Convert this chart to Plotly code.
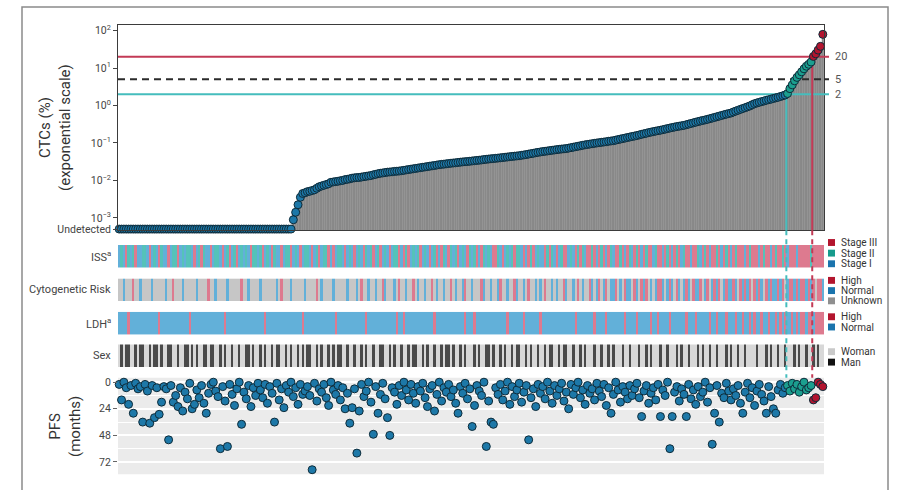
import math
import plotly.graph_objects as go

# ---------------------------------------------------------------- data ----
# Patients sorted by circulating tumour cell level (% of nucleated cells).
N_UNDETECTED = 74  # patients without detectable CTCs (left block)

CTC_DETECTED = [
    0.00089, 0.00141, 0.00224, 0.00355, 0.00447, 0.00468,
    0.00501, 0.00513, 0.00537, 0.00562, 0.00617, 0.00676, 0.00708, 0.00741, 0.00776, 0.00813,
    0.00891, 0.0091, 0.0093, 0.0095, 0.0098, 0.0100, 0.0105, 0.0107, 0.0110, 0.0115,
    0.0117, 0.0119, 0.0120, 0.0123, 0.0126, 0.0129, 0.0132, 0.0135, 0.0141, 0.0145,
    0.0151, 0.0155, 0.0158, 0.0162, 0.0166, 0.0168, 0.0170, 0.0174, 0.0176, 0.0178,
    0.0182, 0.0186, 0.0191, 0.0195, 0.0200, 0.0204, 0.0209, 0.0214, 0.0219, 0.0224,
    0.0229, 0.0234, 0.0240, 0.0245, 0.0250, 0.0257, 0.0263, 0.0268, 0.0272, 0.0277,
    0.0282, 0.0288, 0.0292, 0.0295, 0.0302, 0.0307, 0.0312, 0.0316, 0.0320, 0.0325,
    0.0331, 0.0336, 0.0342, 0.0347, 0.0352, 0.0360, 0.0366, 0.0372, 0.0378, 0.0383,
    0.0389, 0.0395, 0.0401, 0.0408, 0.0416, 0.0422, 0.0430, 0.0437, 0.0444, 0.0450,
    0.0457, 0.0468, 0.0479, 0.0490, 0.0505, 0.0518, 0.0531, 0.0547, 0.0562, 0.0575,
    0.0589, 0.0600, 0.0611, 0.0625, 0.0638, 0.0650, 0.0664, 0.0676, 0.0688, 0.0697,
    0.0708, 0.0728, 0.0750, 0.0772, 0.0795, 0.0818, 0.0842, 0.0867, 0.0891, 0.0912,
    0.0933, 0.0955, 0.0977, 0.0999, 0.102, 0.104, 0.106, 0.108, 0.111, 0.113,
    0.115, 0.119, 0.123, 0.127, 0.131, 0.135, 0.140, 0.144, 0.149, 0.153,
    0.158, 0.164, 0.170, 0.176, 0.182, 0.189, 0.195, 0.201, 0.207, 0.213,
    0.219, 0.226, 0.234, 0.242, 0.250, 0.258, 0.266, 0.274, 0.281, 0.288,
    0.295, 0.307, 0.319, 0.332, 0.345, 0.358, 0.372, 0.386, 0.400, 0.413,
    0.427, 0.445, 0.463, 0.481, 0.501, 0.521, 0.543, 0.565, 0.588, 0.609,
    0.631, 0.672, 0.708, 0.748, 0.790, 0.832, 0.876, 0.924, 0.975, 1.05,
    1.12, 1.17, 1.22, 1.27, 1.32, 1.38, 1.43, 1.48, 1.54, 1.60,
    1.66, 1.74, 1.82, 1.91, 2.09, 2.82, 3.55, 4.57, 5.62, 6.61,
    7.94, 9.55, 11.2, 12.6, 14.5, 20.4, 24.0, 30.2, 38.0, 79.4,
]

PFS_MONTHS = [
    2, 16, 0, 5, 20, 3, 28, 1, 6, 4, 36, 2, 8, 37, 3, 32, 5, 29, 18, 4,
    6, 52, 3, 18, 12, 22, 5, 26, 9, 15, 1, 24, 20, 7, 14, 3, 19, 28, 10, 2,
    0, 8, 13, 60, 4, 17, 58, 2, 11, 21, 6, 0, 38, 9, 15, 3, 22, 5, 12, 1,
    7, 14, 2, 19, 4, 10, 36, 1, 16, 6, 23, 3, 9, 0, 13, 5, 20, 2, 11, 8,
    4, 12, 79, 1, 17, 6, 9, 2, 14, 21, 0, 7, 11, 3, 16, 5, 24, 10, 37, 23,
    6, 64, 26, 2, 13, 8, 0, 18, 47, 4, 28, 11, 1, 15, 32, 48, 5, 9, 20, 3,
    12, 0, 7, 16, 2, 10, 19, 4, 8, 1, 14, 22, 6, 3, 26, 11, 0, 17, 5, 9,
    2, 13, 7, 19, 28, 4, 10, 1, 15, 6, 40, 21, 3, 8, 12, 0, 58, 17, 36, 38,
    5, 11, 2, 16, 8, 0, 20, 4, 13, 7, 1, 18, 9, 3, 52, 14, 6, 22, 2, 10,
    4, 15, 0, 8, 19, 3, 12, 6, 1, 17, 9, 24, 2, 11, 5, 0, 14, 7, 20, 3,
    10, 6, 16, 1, 8, 13, 2, 21, 5, 28, 11, 0, 7, 18, 4, 9, 15, 3, 12, 6,
    1, 14, 31, 8, 3, 19, 10, 5, 16, 2, 31, 7, 12, 0, 60, 31, 9, 4, 17, 6,
    11, 31, 2, 15, 7, 20, 4, 13, 9, 0, 18, 5, 56, 28, 3, 36, 10, 14, 1, 8,
    16, 6, 12, 3, 19, 28, 9, 1, 14, 5, 21, 8, 2, 11, 17, 28, 4, 13, 24, 28,
    7, 2, 10, 5, 3, 8, 1, 6, 2, 9, 4, 0, 7, 5, 3, 16, 14, 0, 2, 4,
]

# ISS stage per patient: 1 = Stage I, 2 = Stage II, 3 = Stage III
ISS_STAGE = (
    "1213212311 2213121321 1312231212 2131232113 1221312312 "
    "3121213221 2312132113 1223121312 2131231223 1312213121 "
    "3121321231 2312131223 1323121231 2131231321 3212312132 "
    "1231321213 3213121232 2131323121 1323213123 3121323213 "
    "3231323132 1332313213 2313233123 3132313231 2331332132 "
    "3133231323 1323331323 3313233132 3323133313 3333233333"
).replace(" ", "")

# Cytogenetic risk: H = high, N = normal, U = unknown
CYTO_RISK = (
    "UUNUUUHUUN UUUUNUUUUU NUUHUUUNUU UUUNUUUUHU UNUUUUNUUU "
    "UUHUUNUUUU NUUUUUUNUH UUUNUUUUUN UUUUHUNUUU UNUUUUUNUU "
    "UNUHUUNUUN UUHNUUUNUH UUNUUHUNUU NUUHUNUUNU UHUNUUNHUU "
    "NUUUHNUUNU UNHUUNUUHN UUNUHUUNUN UHUUNUNUUH NUUNUHUNUU "
    "HNUNHUNHUN NHUNUHNNUH NUHNHUNUNH HNUNHNUHNU NHNUHNNHUN "
    "HUNHNHUNHN NHNUHNHNHU HNHNUHNHNN HNHUNHHNHN HHNHNHUHHN"
).replace(" ", "")

# LDH: H = high, N = normal
LDH_LEVEL = (
    "NNNNHNNNNN NNNNNNNHNN NNNNNNNNNN HNNNNNNNNN NNNNNHNNNN "
    "NNNNNNNNNN NNHNNNNNNN NNNNNNNNHN NNNNNNNNNN NNHNNNNNNN "
    "NNNNNHNNNN NNNNNNNNHN NHNNNNNNNN NNNNHNNNNN NNNNNNNHNN "
    "NHNNNNNNNN NNNNNHNNNN NNHNNNNNNH NNNNNNNNNN NNNNHNNNNN "
    "NNHNNNNHNN NNNNNHNNNN HNNNNNHNNH NNNNHNNNNN NHNNNHNNNN "
    "NHNNHNNNHN NNHNNHNNHN HNNHNNHNNH NHNHNNHNHN HHNHHNHHHH"
).replace(" ", "")

# Sex: W = woman, M = man
SEX = (
    "WMWMMWWMWM MWWMWMMWMW WMMWWMWWMM WMWMWWMMWM MWWMWMWWMW "
    "WMWWMMWMWW MWMWWMWMMW WMWMWWMWMW MMWWMWMWWM WMWMMWWMWW "
    "MWWMWMWWMW WMMWWMWMWW MWWMWMMWWM WMWWMWWMWM MWMWWMWMWW "
    "WMWMWWMMWM WWMWMWWMWM MWWMWMWWMW WMWMMWWMWM MWWMWWMWMW "
    "WWMWWMWWMW MWWWMWWMWW WMWWMWMWWW MWWMWWWMWM WWMWWWMWMW "
    "WMWWMWWWMW MWWMWWMWWW WMWWWMWMWW MWWMWWWMWM WWMWWMWMWW"
).replace(" ", "")

LOW_CUT, MID_CUT, HIGH_CUT = 2, 5, 20        # CTC thresholds (%)
Y_LOG_RANGE = [-3.33, 2.16]                  # log10 range of the CTC panel
UNDETECTED_POS = 10 ** -3.3                  # where undetected cases sit
CTC_TICKS = [UNDETECTED_POS, 1e-3, 1e-2, 1e-1, 1, 10, 100]
CTC_TICKTEXT = ["Undetected", "10<sup>\u22123</sup>", "10<sup>\u22122</sup>",
                "10<sup>\u22121</sup>", "10<sup>0</sup>", "10<sup>1</sup>", "10<sup>2</sup>"]
PFS_TICKS = [0, 24, 48, 72]

ctc = [0.0] * N_UNDETECTED + CTC_DETECTED
N = len(ctc)
for seq in (PFS_MONTHS, ISS_STAGE, CYTO_RISK, LDH_LEVEL, SEX):
    assert len(seq) == N, len(seq)

# ---------------------------------------------------------------- style ---
FONT = "Roboto, Arial, sans-serif"
TXT = "#333333"
DOT = {"low": "#1d78a8", "mid": "#1b9f8f", "high": "#b3142f"}
DOT_EDGE = "#0e2c3a"
PINK, TEAL_L, BLUE_L, GRAY_L = "#dd7a8f", "#55c2b9", "#62b0d9", "#c6c6c6"
WOMAN_C, MAN_C = "#d8d8d8", "#4a4a4a"
KEY_RED, KEY_TEAL, KEY_BLUE, KEY_GRAY = "#b3152e", "#169b8c", "#1a74ad", "#8f8f8f"
LINE_RED, LINE_CYAN = "#c33a56", "#45bdbd"

W, H = 899, 490


def fx(px):
    return px / W


def fy(py):
    return 1 - py / H


X_LEFT, X_RIGHT = 118, 824
PANELS = [  # name, top px, bottom px
    ("ctc", 23, 232), ("iss", 247, 270), ("cyto", 281, 304),
    ("ldh", 315, 338), ("sex", 348, 371), ("pfs", 382, 480),
]
AX = {name: ("" if k == 0 else str(k + 1)) for k, (name, _, _) in enumerate(PANELS)}
PANEL_PX = {name: (t, b) for name, t, b in PANELS}


def group(v):
    if v >= HIGH_CUT:
        return "high"
    if v >= LOW_CUT:
        return "mid"
    return "low"


groups = [group(v) for v in ctc]
idx = list(range(N))

fig = go.Figure()
base = 10 ** Y_LOG_RANGE[0]

# threshold lines sit underneath the grey CTC profile
for val, col, dash in ((HIGH_CUT, LINE_RED, "solid"), (MID_CUT, "#2b2b2b", "7px,5px"),
                       (LOW_CUT, LINE_CYAN, "solid")):
    fig.add_trace(go.Scatter(x=[-0.5, N - 0.5], y=[val, val], mode="lines",
                             line=dict(color=col, width=2, dash=dash),
                             hoverinfo="skip", showlegend=False, xaxis="x", yaxis="y"))

det_x = [i for i in idx if ctc[i] > 0]
fig.add_trace(go.Bar(x=det_x, y=[ctc[i] for i in det_x], base=base,
                     marker=dict(color="#888888", line=dict(color="#999999", width=0.25)),
                     hoverinfo="skip", showlegend=False, xaxis="x", yaxis="y"))

# vertical markers at the first patient above each cut-off
cut_lo = next(i for i, v in enumerate(ctc) if v >= LOW_CUT) - 0.5
cut_hi = next(i for i, v in enumerate(ctc) if v >= HIGH_CUT) - 0.5
for xc, val, col in ((cut_lo, LOW_CUT, LINE_CYAN), (cut_hi, HIGH_CUT, LINE_RED)):
    fig.add_trace(go.Scatter(x=[xc, xc], y=[val, base], mode="lines",
                             line=dict(color=col, width=2), hoverinfo="skip",
                             showlegend=False, xaxis="x", yaxis="y"))

for g in ("low", "mid", "high"):
    sel = [i for i in idx if groups[i] == g]
    fig.add_trace(go.Scatter(
        x=sel, y=[ctc[i] if ctc[i] > 0 else UNDETECTED_POS for i in sel], mode="markers",
        marker=dict(size=8, color=DOT[g], line=dict(color=DOT_EDGE, width=1)),
        cliponaxis=False, hoverinfo="skip", showlegend=False, xaxis="x", yaxis="y"))
    fig.add_trace(go.Scatter(
        x=sel, y=[PFS_MONTHS[i] for i in sel], mode="markers",
        marker=dict(size=8, color=DOT[g], line=dict(color=DOT_EDGE, width=1)),
        cliponaxis=False, hoverinfo="skip", showlegend=False,
        xaxis="x" + AX["pfs"], yaxis="y" + AX["pfs"]))

# annotation strips: (panel, label, codes, levels, colours, key entries, key top offset, key step)
STRIPS = [
    ("iss", "ISS<sup>a</sup>", ISS_STAGE, ["1", "2", "3"], [BLUE_L, TEAL_L, PINK],
     [("Stage III", KEY_RED), ("Stage II", KEY_TEAL), ("Stage I", KEY_BLUE)], -2.5, 10.8),
    ("cyto", "Cytogenetic Risk", CYTO_RISK, ["U", "N", "H"], [GRAY_L, BLUE_L, PINK],
     [("High", KEY_RED), ("Normal", KEY_BLUE), ("Unknown", KEY_GRAY)], 2, 10.4),
    ("ldh", "LDH<sup>a</sup>", LDH_LEVEL, ["N", "H"], [BLUE_L, PINK],
     [("High", KEY_RED), ("Normal", KEY_BLUE)], 5, 10.4),
    ("sex", "Sex", SEX, ["W", "M"], [WOMAN_C, MAN_C],
     [("Woman", "#c9c9c9"), ("Man", "#111111")], 7.5, 10.6),
]

annotations = []
shapes = []
for name, label, codes, levels, colors, keys, key_off, key_step in STRIPS:
    n = len(levels)
    z = [[levels.index(c) for c in codes]]
    scale = []
    for k, col in enumerate(colors):
        scale += [[k / n, col], [(k + 1) / n, col]]
    fig.add_trace(go.Heatmap(x=idx, y=[0], z=z, zmin=-0.5, zmax=n - 0.5,
                             colorscale=scale, showscale=False, hoverinfo="skip",
                             xaxis="x" + AX[name], yaxis="y" + AX[name]))
    top, bot = PANEL_PX[name]
    mid = (top + bot) / 2
    annotations.append(dict(text=label, x=fx(113), y=fy(mid), xref="paper", yref="paper",
                            xanchor="right", yanchor="middle", showarrow=False,
                            font=dict(family=FONT, size=11, color="#444")))
    for j, (klabel, kcol) in enumerate(keys):
        yc = top + key_off + j * key_step
        shapes.append(dict(type="rect", xref="paper", yref="paper",
                           x0=fx(828), x1=fx(835), y0=fy(yc + 3.5), y1=fy(yc - 3.5),
                           fillcolor=kcol, line=dict(width=0)))
        annotations.append(dict(text=klabel, x=fx(839), y=fy(yc), xref="paper", yref="paper",
                                xanchor="left", yanchor="middle", showarrow=False,
                                font=dict(family=FONT, size=10, color="#333")))

# dashed continuation of the cut-off markers through the strips
for xc, col in ((cut_lo, LINE_CYAN), (cut_hi, LINE_RED)):
    shapes.append(dict(type="line", xref="x", yref="paper", x0=xc, x1=xc,
                       y0=fy(PANEL_PX["ctc"][1]), y1=fy(PANEL_PX["pfs"][0]),
                       line=dict(color=col, width=2, dash="5px,4px")))

# right-hand threshold labels
for val, col in ((HIGH_CUT, LINE_RED), (MID_CUT, "#2b2b2b"), (LOW_CUT, LINE_CYAN)):
    shapes.append(dict(type="line", xref="paper", yref="y", x0=fx(X_RIGHT), x1=fx(X_RIGHT + 5),
                       y0=val, y1=val, line=dict(color=col, width=2)))
    annotations.append(dict(text=str(val), x=fx(X_RIGHT + 9), y=math.log10(val),
                            xref="paper", yref="y", xanchor="left", yanchor="middle",
                            showarrow=False, font=dict(family=FONT, size=11, color="#555")))

# PFS panel background
shapes.append(dict(type="rect", xref="x" + AX["pfs"] + " domain", yref="y" + AX["pfs"] + " domain",
                   x0=0, x1=1, y0=0, y1=1, fillcolor="#ebebeb", line=dict(width=0), layer="below"))

# outer frame
shapes.append(dict(type="rect", xref="paper", yref="paper", x0=fx(22), x1=fx(888),
                   y0=-0.05, y1=fy(5), line=dict(color="#8a8a8a", width=1.5)))

# axis titles
annotations.append(dict(text="CTCs (%)<br>(exponential scale)", x=fx(55), y=fy(128),
                        xref="paper", yref="paper", textangle=-90, showarrow=False,
                        xanchor="center", yanchor="middle",
                        font=dict(family=FONT, size=15, color=TXT)))
annotations.append(dict(text="PFS<br>(months)", x=fx(65), y=fy(432),
                        xref="paper", yref="paper", textangle=-90, showarrow=False,
                        xanchor="center", yanchor="middle",
                        font=dict(family=FONT, size=15, color=TXT)))

layout = dict(
    width=W, height=H, margin=dict(l=0, r=0, t=0, b=0),
    paper_bgcolor="white", plot_bgcolor="white", bargap=0,
    font=dict(family=FONT, color=TXT), showlegend=False,
    annotations=annotations, shapes=shapes,
)
xrange = [-0.5, N - 0.5]
for name, top, bot in PANELS:
    s = AX[name]
    layout["xaxis" + s] = dict(domain=[fx(X_LEFT), fx(X_RIGHT)], range=xrange, anchor="y" + s,
                               showgrid=False, zeroline=False, showticklabels=False, ticks="",
                               fixedrange=True)
    layout["yaxis" + s] = dict(domain=[fy(bot), fy(top)], anchor="x" + s, zeroline=False,
                               showgrid=False, fixedrange=True)
    if name not in ("ctc", "pfs"):
        layout["xaxis" + s]["visible"] = False
        layout["yaxis" + s].update(visible=False, range=[-0.5, 0.5])

layout["xaxis"].update(showline=True, mirror=True, linecolor="#3b3b3b", linewidth=1)
layout["yaxis"].update(type="log", range=Y_LOG_RANGE, tickmode="array", tickvals=CTC_TICKS,
                       ticktext=CTC_TICKTEXT, ticks="outside", ticklen=4, tickcolor="#444",
                       showline=True, mirror=True, linecolor="#3b3b3b", linewidth=1,
                       tickfont=dict(family=FONT, size=10.5, color="#444"))
p = AX["pfs"]
layout["xaxis" + p].update(visible=False)
layout["yaxis" + p].update(range=[83, -4], tickmode="array", tickvals=PFS_TICKS,
                           ticks="outside", ticklen=4, tickcolor="#666",
                           showgrid=True, gridcolor="white", gridwidth=2,
                           minor=dict(tickmode="linear", tick0=0, dtick=12, showgrid=True,
                                      gridcolor="white", gridwidth=1.2),
                           tickfont=dict(family=FONT, size=10.5, color="#444"))

fig.update_layout(**layout)
fig.write_html("out.html")
